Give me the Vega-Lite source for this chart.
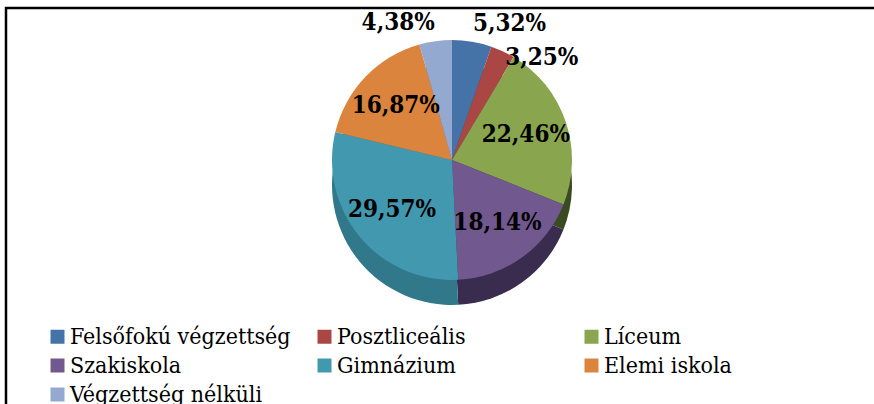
{
  "$schema": "https://vega.github.io/schema/vega-lite/v6.json",
  "width": 892,
  "height": 400,
  "autosize": "none",
  "padding": {"left": 6, "top": 8, "right": 0, "bottom": 0},
  "background": "white",
  "config": {"view": {"stroke": "black", "strokeWidth": 2.5}, "font": "DejaVu Serif Condensed"},
  "data": {"values": [
    {"category": "Felsőfokú végzettség", "value": 5.32, "label": "5,32%", "order": 1},
    {"category": "Posztliceális", "value": 3.25, "label": "3,25%", "order": 2},
    {"category": "Líceum", "value": 22.46, "label": "22,46%", "order": 3},
    {"category": "Szakiskola", "value": 18.14, "label": "18,14%", "order": 4},
    {"category": "Gimnázium", "value": 29.57, "label": "29,57%", "order": 5},
    {"category": "Elemi iskola", "value": 16.87, "label": "16,87%", "order": 6},
    {"category": "Végzettség nélküli", "value": 4.38, "label": "4,38%", "order": 7}
  ]},
  "layer": [
    {
      "mark": {"type": "arc", "outerRadius": 120, "stroke": null},
      "encoding": {
        "theta": {"field": "value", "type": "quantitative", "stack": true},
        "order": {"field": "order", "type": "quantitative"},
        "y": {"value": {"expr": "height*0.38+25"}},
        "color": {"field": "category", "type": "nominal",
          "scale": {"domain": ["Felsőfokú végzettség", "Posztliceális", "Líceum", "Szakiskola", "Gimnázium", "Elemi iskola", "Végzettség nélküli"],
                    "range": ["#2E4C73", "#722F2D", "#3A4A22", "#3A2C4E", "#31788B", "#94582A", "#63718C"]},
          "legend": null}
      }
    },
    {
      "mark": {"type": "arc", "outerRadius": 120, "stroke": null},
      "encoding": {
        "theta": {"field": "value", "type": "quantitative", "stack": true},
        "order": {"field": "order", "type": "quantitative"},
        "y": {"value": {"expr": "height*0.38"}},
        "color": {"field": "category", "type": "nominal",
          "scale": {"domain": ["Felsőfokú végzettség", "Posztliceális", "Líceum", "Szakiskola", "Gimnázium", "Elemi iskola", "Végzettség nélküli"],
                    "range": ["#4572A7", "#AA4643", "#89A54E", "#71588F", "#4198AF", "#DB843D", "#93A9CF"]},
          "legend": {
            "orient": "none", "legendX": 40, "legendY": 317, "columns": 3, "direction": "horizontal",
            "title": null, "padding": 0, "gridAlign": "all", "columnPadding": 22, "rowPadding": 5,
            "labelFont": "DejaVu Serif Condensed", "labelFontSize": 23, "labelColor": "black", "labelLimit": 400, "labelOffset": 1,
            "symbolType": "square", "symbolSize": 196, "symbolStrokeWidth": 0, "symbolOpacity": 1
          }}
      }
    },
    {
      "mark": {"type": "text", "font": "DejaVu Serif Condensed", "fontWeight": "bold", "fontSize": 24, "color": "black",
        "radius": {"expr": "datum.value < 6 ? 126 : 78"},
        "align": {"expr": "datum.value < 6 ? (datum.category == 'Végzettség nélküli' ? 'right' : 'left') : 'center'"},
        "baseline": {"expr": "datum.value < 6 ? (datum.category == 'Posztliceális' ? 'top' : 'bottom') : 'middle'"}},
      "encoding": {
        "theta": {"field": "value", "type": "quantitative", "stack": true},
        "order": {"field": "order", "type": "quantitative"},
        "y": {"value": {"expr": "height*0.38"}},
        "text": {"field": "label"}
      }
    }
  ],
  "resolve": {"scale": {"color": "independent"}}
}
